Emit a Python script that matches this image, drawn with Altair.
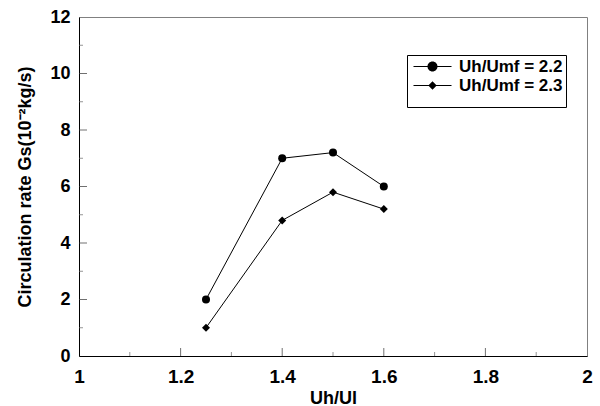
import altair as alt
import pandas as pd

# ---- data ----
uh_ul = [1.25, 1.4, 1.5, 1.6]
gs_umf_22 = [2.0, 7.0, 7.2, 6.0]
gs_umf_23 = [1.0, 4.8, 5.8, 5.2]
series_names = ["Uh/Umf = 2.2", "Uh/Umf = 2.3"]

x_labels = [1, 1.2, 1.4, 1.6, 1.8, 2]
y_labels = [0, 2, 4, 6, 8, 10, 12]
x_major_ticks = [1.2, 1.4, 1.6, 1.8]
x_minor_ticks = [1.1, 1.3, 1.5, 1.7, 1.9]
y_major_ticks = [2, 4, 6, 8, 10]
y_minor_ticks = [1, 3, 5, 7, 9, 11]

FONT = "Liberation Sans"

df = pd.DataFrame({
    "x": uh_ul + uh_ul,
    "y": gs_umf_22 + gs_umf_23,
    "series": [series_names[0]] * len(uh_ul) + [series_names[1]] * len(uh_ul),
})

xs = alt.Scale(domain=[1, 2], nice=False, zero=False)
ys = alt.Scale(domain=[0, 12], nice=False, zero=False)

x_axis = alt.Axis(
    values=x_labels, format="~g", title="Uh/Ul", grid=False, ticks=False, tickSize=0,
    domainColor="black", domainWidth=1,
    labelFont=FONT, labelFontSize=19, labelFontWeight="bold", labelColor="black",
    labelPadding=11, labelFlush=False, labelOverlap=False, labelBound=False,
    titleFont=FONT, titleFontSize=18, titleFontWeight="bold", titleColor="black",
    titleY=47, titleBaseline="alphabetic",
)
y_axis = alt.Axis(
    values=y_labels, format="~g", title="Circulation rate Gs(10⁻²kg/s)", grid=False,
    ticks=False, tickSize=0, domainColor="black", domainWidth=1,
    labelFont=FONT, labelFontSize=18, labelFontWeight="bold", labelColor="black",
    labelPadding=9, labelOverlap=False, labelBound=False, labelFlush=False,
    titleFont=FONT, titleFontSize=18, titleFontWeight="bold", titleColor="black",
    titleX=-54, titleBaseline="middle",
)

# legend symbols: a thin filled bar (the line) with the marker in the middle
line_part = "M-9.5,-0.25L9.5,-0.25L9.5,0.25L-9.5,0.25Z"
circle_path = line_part + "M2.5,0A2.5,2.5,0,1,1,-2.5,0A2.5,2.5,0,1,1,2.5,0Z"
diamond_path = line_part + "M0,-2.1L2.1,0L0,2.1L-2.1,0Z"

legend = alt.Legend(
    title=" ", titleOrient="bottom", titleFontSize=9, titlePadding=1,
    orient="none", legendX=328, legendY=38,
    strokeColor="black", fillColor="white", padding=3, rowPadding=1,
    symbolSize=16, symbolOffset=14, labelOffset=18,
    labelFont=FONT, labelFontSize=17, labelFontWeight="bold", labelColor="black",
    symbolStrokeWidth=0, symbolFillColor="black",
    symbolOpacity=1, cornerRadius=0,
)

base = alt.Chart(df).encode(
    x=alt.X("x:Q", scale=xs, axis=x_axis),
    y=alt.Y("y:Q", scale=ys, axis=y_axis),
)

lines = base.mark_line(color="black", strokeWidth=1).encode(detail="series:N")
points = base.mark_point(filled=True, color="black", size=64, opacity=1).encode(
    shape=alt.Shape("series:N",
                    scale=alt.Scale(domain=series_names, range=["circle", "diamond"]),
                    legend=None)
)

# empty layer that only produces the legend
legend_layer = alt.Chart(alt.Data(values=[])).mark_point(
    filled=True, color="black", opacity=1
).encode(
    shape=alt.Shape("series:N",
                    scale=alt.Scale(domain=series_names, range=[circle_path, diamond_path]),
                    legend=legend)
)

xmaj = alt.Chart(pd.DataFrame({"x": x_major_ticks})).mark_tick(
    orient="vertical", size=8, thickness=1, yOffset=-4, color="#333333"
).encode(x="x:Q", y=alt.datum(0))
xmin = alt.Chart(pd.DataFrame({"x": x_minor_ticks})).mark_tick(
    orient="vertical", size=4, thickness=1, yOffset=-2, color="#666666"
).encode(x="x:Q", y=alt.datum(0))
ymaj = alt.Chart(pd.DataFrame({"y": y_major_ticks})).mark_tick(
    orient="horizontal", size=8, thickness=1, xOffset=4, color="#333333"
).encode(y="y:Q", x=alt.datum(1))
ymin = alt.Chart(pd.DataFrame({"y": y_minor_ticks})).mark_tick(
    orient="horizontal", size=4, thickness=1, xOffset=2, color="#666666"
).encode(y="y:Q", x=alt.datum(1))

chart = alt.layer(lines, points, legend_layer, xmaj, xmin, ymaj, ymin).resolve_scale(
    shape="independent"
).properties(
    width=508, height=339,
    padding={"left": 79, "top": 17, "right": 13, "bottom": 50},
    autosize=alt.AutoSizeParams(type="none"),
    background="white",
).configure_view(stroke="#808080", strokeWidth=1)

chart.save("out.html", embed_options={"renderer": "svg", "actions": False})
